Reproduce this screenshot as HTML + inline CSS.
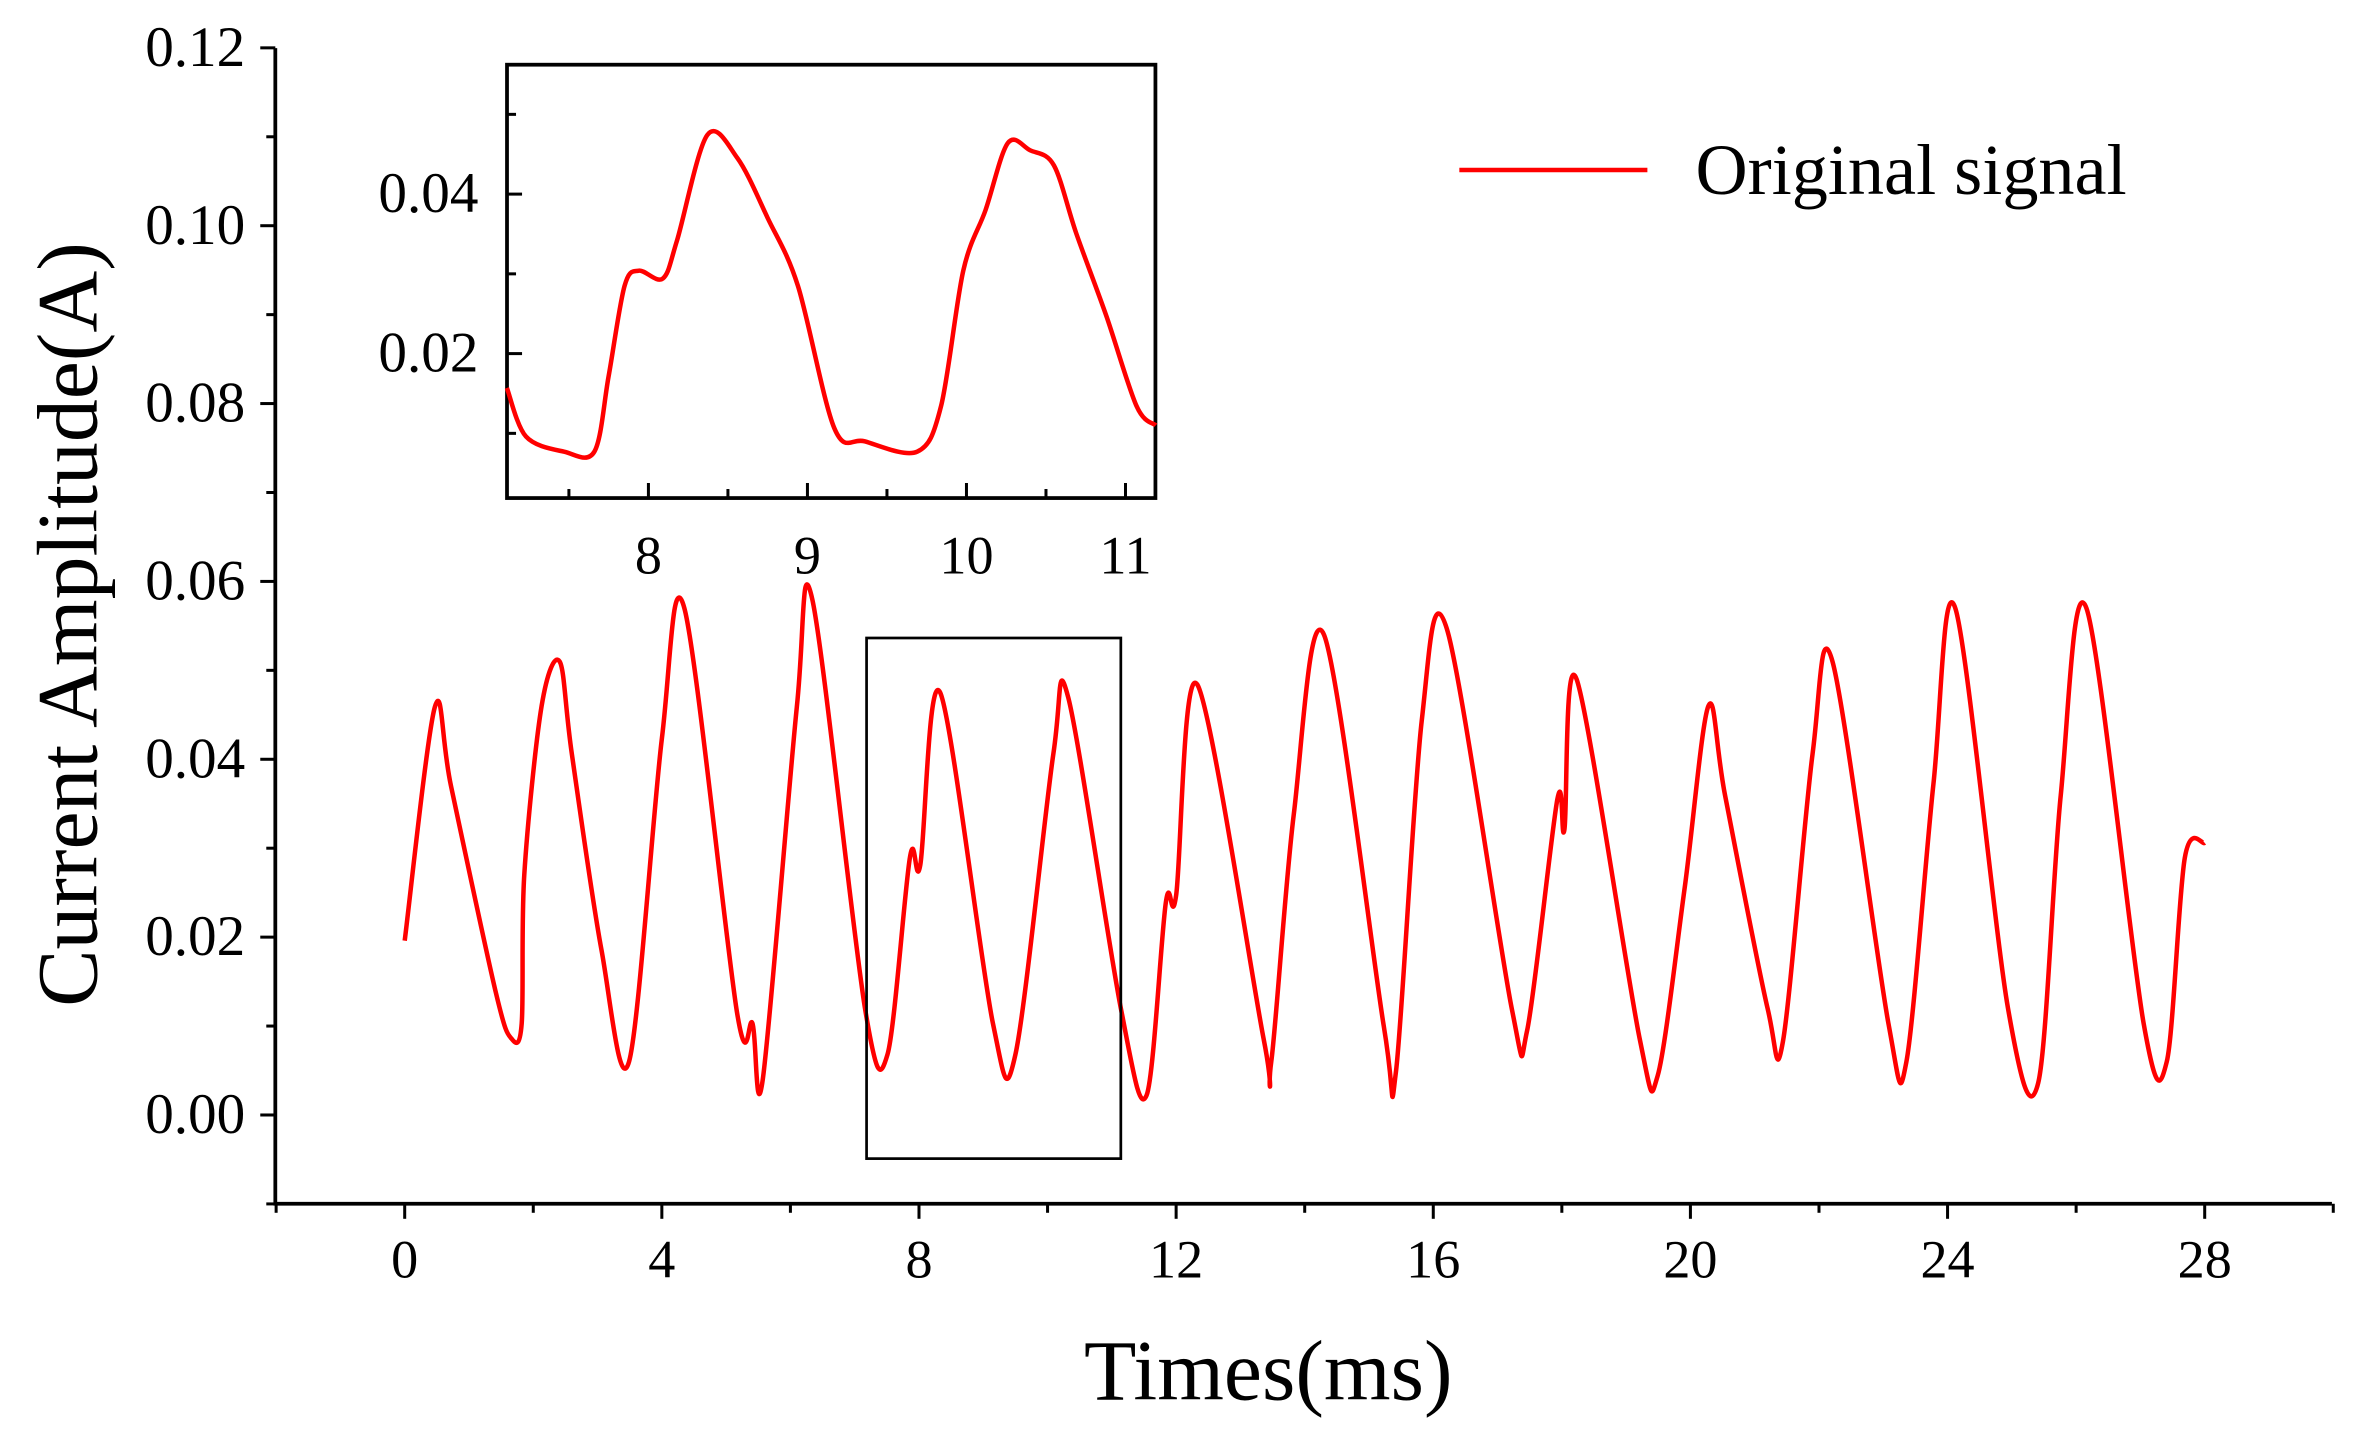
<!DOCTYPE html>
<html><head><meta charset="utf-8"><style>
html,body{margin:0;padding:0;background:#fff;}
svg{display:block;font-family:"Liberation Serif",serif;}
</style></head><body>
<svg id="chart" width="2359" height="1440" viewBox="0 0 1568 957" preserveAspectRatio="none" xmlns="http://www.w3.org/2000/svg">
<rect width="1568" height="957" fill="#fff"/>
<g id="main"></g>
<g id="inset"></g>
<g>
<line x1="970" y1="113" x2="1095" y2="113" stroke="#ff0000" stroke-width="3"/>
<text x="1127" y="129" font-size="48">Original signal</text>
</g>
<text transform="translate(64,415) rotate(-90)" text-anchor="middle" font-size="57">Current Amplitude(A)</text>
<text x="843" y="930" text-anchor="middle" font-size="57">Times(ms)</text>
</svg>
<script>
const mainT=[0,0.47,0.72,1.42,1.66,1.82,1.86,2.13,2.41,2.6,3.06,3.49,4.0,4.35,5.17,5.41,5.57,6.1,6.34,7.16,7.51,7.86,8.02,8.33,9.15,9.5,10.09,10.32,11.14,11.54,11.84,12.0,12.33,13.36,13.48,13.83,14.3,15.23,15.42,15.82,16.21,17.22,17.46,17.93,18.04,18.23,19.21,19.49,19.91,20.28,20.54,21.2,21.44,21.9,22.21,23.08,23.36,23.78,24.12,24.94,25.41,25.76,26.16,27.05,27.41,27.69,28.0];
const mainV=[0.0196,0.0459,0.037,0.0137,0.0086,0.0103,0.027,0.046,0.051,0.0406,0.0186,0.006,0.0423,0.057,0.0115,0.0103,0.004,0.0459,0.058,0.012,0.0068,0.029,0.0281,0.0475,0.0103,0.0068,0.0406,0.047,0.012,0.0022,0.0239,0.0247,0.0484,0.0086,0.006,0.0338,0.054,0.010,0.0049,0.0443,0.0547,0.0120,0.0095,0.0355,0.0321,0.049,0.0086,0.0044,0.0255,0.046,0.0359,0.012,0.0083,0.0406,0.051,0.0103,0.006,0.0372,0.057,0.012,0.0036,0.0359,0.057,0.0103,0.006,0.0289,0.0306];
const insT=[7.11,7.23,7.47,7.66,7.75,7.85,7.94,8.09,8.18,8.37,8.56,8.75,8.94,9.17,9.36,9.69,9.84,9.98,10.12,10.26,10.4,10.55,10.69,10.88,11.07,11.19];
const insV=[0.0157,0.0096,0.0077,0.0077,0.0172,0.0285,0.0304,0.0294,0.0342,0.0474,0.0445,0.037,0.0285,0.0106,0.009,0.0077,0.0134,0.0304,0.038,0.0464,0.0455,0.0436,0.0351,0.0247,0.0134,0.011];
const xTicks=[0,4,8,12,16,20,24,28];
const yTicks=[0,0.02,0.04,0.06,0.08,0.10,0.12];
const insXTicks=[8,9,10,11];
const insYTicks=[0.02,0.04];
const NS="http://www.w3.org/2000/svg";
function mk(tag,attrs,parent){const e=document.createElementNS(NS,tag);for(const k in attrs)e.setAttribute(k,attrs[k]);parent.appendChild(e);return e;}
const X=t=>269+t*42.73, Y=v=>741-v/0.02*118.2;
const IX=t=>431+(t-8)*105.7, IY=v=>235-(v-0.02)/0.02*106;
function smooth(pts){let d='M'+pts[0][0]+','+pts[0][1];for(let i=0;i<pts.length-1;i++){const p0=pts[Math.max(0,i-1)],p1=pts[i],p2=pts[i+1],p3=pts[Math.min(pts.length-1,i+2)];const k=0.16;d+=' C'+(p1[0]+(p2[0]-p0[0])*k)+','+(p1[1]+(p2[1]-p0[1])*k)+' '+(p2[0]-(p3[0]-p1[0])*k)+','+(p2[1]-(p3[1]-p1[1])*k)+' '+p2[0]+','+p2[1];}return d;}
const main=document.getElementById('main'), ins=document.getElementById('inset');
let a=mk('path',{d:'M183,32 V800 H1550',fill:'none',stroke:'#000','stroke-width':2.5},main);


for(let i=-1;i<=12;i++){const v=i*0.01;const y=Y(v);const major=i>=0&&i%2===0;let t=mk('line',{x1:183,x2:major?173:177,y1:y,y2:y,stroke:'#000','stroke-width':2},main);

}
yTicks.forEach(v=>{let t=mk('text',{x:163,y:Y(v)+12,'text-anchor':'end','font-size':38},main);t.textContent=v.toFixed(2);

});
for(let t0=-2;t0<=30;t0+=2){const x=X(t0);const major=t0%4===0;let t=mk('line',{x1:x,x2:x,y1:800,y2:major?810:806,stroke:'#000','stroke-width':2},main);

}
xTicks.forEach(v=>{let t=mk('text',{x:X(v),y:849,'text-anchor':'middle','font-size':36},main);t.textContent=v;

});
let p=mk('path',{d:smooth(mainT.map((t,i)=>[X(t),Y(mainV[i])])),fill:'none',stroke:'#ff0000','stroke-width':3,'stroke-linejoin':'round'},main);


let z=mk('rect',{x:576,y:424,width:169,height:346,fill:'none',stroke:'#000','stroke-width':1.8},main);


let b=mk('rect',{x:337,y:43,width:431,height:288,fill:'#fff',stroke:'#000','stroke-width':2.5},ins);


for(let i=1;i<=5;i++){const v=i*0.01;const y=IY(v);const major=i%2===0;let t=mk('line',{x1:337,x2:major?347:343,y1:y,y2:y,stroke:'#000','stroke-width':2},ins);

}
insYTicks.forEach(v=>{let t=mk('text',{x:318,y:IY(v)+12,'text-anchor':'end','font-size':38},ins);t.textContent=v.toFixed(2);

});
for(let t0=7.5;t0<=11.1;t0+=0.5){const x=IX(t0);const major=Math.abs(t0-Math.round(t0))<0.01;let t=mk('line',{x1:x,x2:x,y1:331,y2:major?321:325,stroke:'#000','stroke-width':2},ins);

}
insXTicks.forEach(v=>{let t=mk('text',{x:IX(v),y:381,'text-anchor':'middle','font-size':36},ins);t.textContent=v;

});
let q=mk('path',{d:smooth(insT.map((t,i)=>[IX(t),IY(insV[i])])),fill:'none',stroke:'#ff0000','stroke-width':3,'stroke-linejoin':'round'},ins);


</script>
</body></html>
